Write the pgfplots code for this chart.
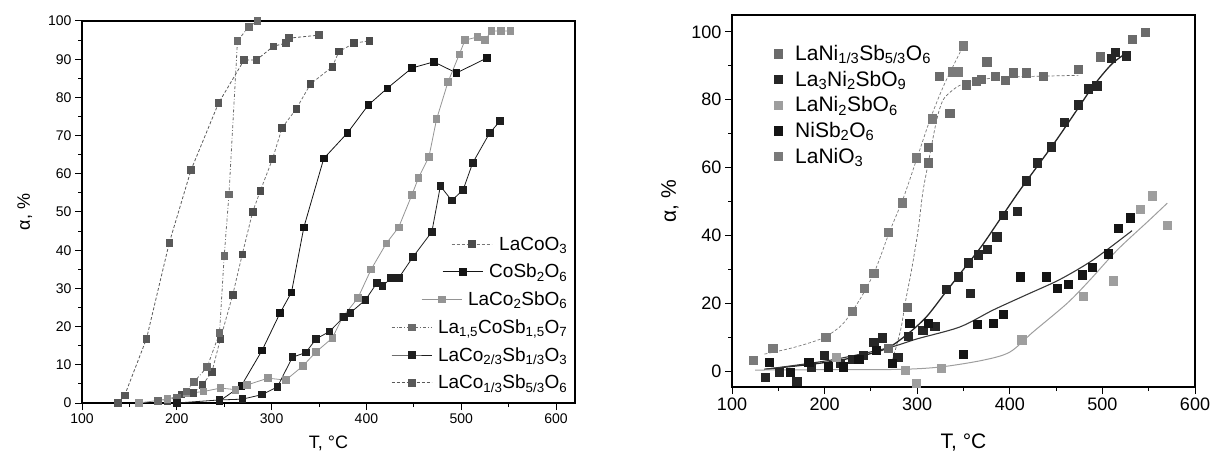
\documentclass[border=0pt]{standalone}
\usepackage{fontspec}
\setmainfont{Liberation Sans}
\usepackage{pgfplots}
\pgfplotsset{compat=1.18}
\definecolor{cA}{gray}{0.35}
\definecolor{cB}{gray}{0.42}
\definecolor{cC}{gray}{0.30}
\definecolor{cD}{gray}{0.08}
\definecolor{cE}{gray}{0.58}
\definecolor{cF}{gray}{0.12}
\definecolor{rA}{gray}{0.42}
\definecolor{rB}{gray}{0.15}
\definecolor{rC}{gray}{0.62}
\definecolor{rD}{gray}{0.08}
\definecolor{rE}{gray}{0.48}
\begin{document}
\begin{tikzpicture}
\useasboundingbox (0,0) rectangle (1212pt,461pt);
\begin{axis}[
 at={(82pt,58pt)}, anchor=south west, scale only axis, width=493pt, height=382pt,
 xmin=100, xmax=620, ymin=0, ymax=100,
 xtick={100,200,...,600}, ytick={0,10,...,100},
 minor x tick num=1, minor y tick num=1,
 tick pos=left, tick align=outside,
 major tick length=7pt, minor tick length=4pt,
 axis line style={line width=1.2pt}, every tick/.style={line width=1pt, black},
 /pgf/number format/assume math mode=true,
 tick label style={font=\fontsize{14}{16}\selectfont},
 xlabel={T, °C}, ylabel={α, \%},
 label style={font=\fontsize{18}{20}\selectfont},
 xlabel style={at={(axis description cs:0.5,-0.105)}, anchor=center},
 ylabel style={at={(axis description cs:-0.116,0.5)}, anchor=center},
 legend style={at={(0.995,0.022)}, anchor=south east, draw=none, fill=none, font=\fontsize{19}{21}\selectfont, row sep=8.5pt, column sep=4pt},
 legend cell align=right,
 legend image code/.code={\draw[mark repeat=2,mark phase=2,#1] plot coordinates {(0pt,0pt) (20pt,0pt) (40pt,0pt)};},
 every axis plot/.append style={line width=0.8pt, mark=square*, mark size=3.3pt},
]
% LaCoO3
\addplot[color=cE!80!black, densely dashed, mark options={solid, fill=cC, draw=cC}, legend image post style={xshift=60pt, overlay}] coordinates {
(190,0.5) (205,2.3) (217,2.6) (227,4.7) (237,8.1) (246,16.8) (259,28.3) (269,38.9) (280,50) (288,55.5) (301,63.9) (311,72) (326,77) (341,83.5) (364,88) (371,92) (387,94.2) (403,94.8)};
\addlegendentry{LaCoO\textsubscript{3}}
% CoSb2O6
\addplot[color=cD, solid, mark options={fill=cD, draw=cD}, legend image post style={xshift=51pt, overlay}] coordinates {
(245,0.5) (268,4.5) (290,13.8) (309,23.6) (321,29) (334,46) (355,64) (380,70.7) (402,78) (422,82.4) (448,87.7) (471,89.3) (495,86.4) (527,90.3)};
\addlegendentry{CoSb\textsubscript{2}O\textsubscript{6}}
% LaCo2SbO6
\addplot[color=cE, solid, mark options={fill=cE, draw=cE}, legend image post style={xshift=30pt, overlay}] coordinates {
(160,0) (190,1) (210,2.5) (228,3) (246,3.9) (262,3.5) (274,4.7) (296,6.5) (315,6) (333,9.7) (347,13.4) (364,17) (375,22.5) (391,27.5) (405,35) (421,41.8) (434,46) (448,54.5) (455,59) (466,64.5) (474,74.3) (486,84) (498,91.3) (504,95) (517,95.8) (525,95) (532,97.4) (542,97.4) (552,97.4)};
\addlegendentry{LaCo\textsubscript{2}SbO\textsubscript{6}}
% La1,5CoSb1,5O7
\addplot[color=cB, dashdotted, mark options={solid, fill=cB, draw=cB}] coordinates {
(180,0.5) (200,1.5) (210,3) (218,5.5) (232,9.4) (245,18.3) (250,38.5) (255,54.6) (264,94.8) (276,98.5) (285,100)};
\addlegendentry{La\textsubscript{1,5}CoSb\textsubscript{1,5}O\textsubscript{7}}
% LaCo2/3Sb1/3O3
\addplot[color=cF, solid, mark options={fill=cF, draw=cF}] coordinates {
(200,0) (245,0.8) (269,1) (290,2.2) (306,4.2) (322,12) (336,13.2) (347,16.8) (361,18.7) (376,22.5) (383,23.6) (399,27) (411,31.4) (417,30.6) (426,32.7) (434,32.7) (449,38.2) (469,44.8) (478,56.8) (490,53) (502,55.8) (512,62.8) (530,70.7) (541,73.8)};
\addlegendentry{LaCo\textsubscript{2/3}Sb\textsubscript{1/3}O\textsubscript{3}}
% LaCo1/3Sb5/3O6
\addplot[color=cA, densely dashed, mark options={solid, fill=cA, draw=cA}] coordinates {
(138,0) (145,2) (168,16.8) (192,41.9) (215,61) (244,78.5) (271,89.8) (284,89.8) (302,93.4) (315,94.2) (318,95.5) (350,96.3)};
\addlegendentry{LaCo\textsubscript{1/3}Sb\textsubscript{5/3}O\textsubscript{6}}
\end{axis}

\begin{axis}[
 at={(732pt,74pt)}, anchor=south west, scale only axis, width=463pt, height=372pt,
 xmin=100, xmax=600, ymin=-4.7, ymax=105,
 xtick={100,200,...,600}, ytick={0,20,...,100},
 minor x tick num=1, minor y tick num=1,
 tick pos=left, tick align=outside,
 major tick length=7pt, minor tick length=4pt,
 axis line style={line width=1.2pt}, every tick/.style={line width=1pt, black},
 /pgf/number format/assume math mode=true,
 tick label style={font=\fontsize{18}{20}\selectfont},
 xlabel={T, °C}, ylabel={α, \%},
 label style={font=\fontsize{21}{24}\selectfont},
 xlabel style={at={(axis description cs:0.5,-0.148)}, anchor=center},
 ylabel style={at={(axis description cs:-0.134,0.5)}, anchor=center},
 legend style={at={(0.082,0.93)}, anchor=north west, draw=none, fill=none, font=\fontsize{21}{23}\selectfont, row sep=5pt},
 legend cell align=left,
 legend image code/.code={\path[draw=none, fill=none] (-5pt,-5pt) rectangle (15pt,5pt); \draw[#1] plot coordinates {(0pt,0pt)};},
 every axis plot/.append style={mark size=4.2pt},
]
\addplot[only marks, mark=square*, color=rA] coordinates {
(268.5,6.8) (289,18.9) (311.7,61.4) (311.7,66) (323.5,87) (335,76) (352.7,84.5) (363.5,85.4) (369,86) (375,91.2) (384,86.9) (395,85.7) (403.5,88) (417.5,88) (436,87) (473.6,89) (497.4,92.7) (532,97.8) (546,100)};
\addlegendentry{LaNi\textsubscript{1/3}Sb\textsubscript{5/3}O\textsubscript{6}}
\addplot[only marks, mark=square*, color=rB] coordinates {
(135.6,-1.8) (150.8,-0.3) (170,-3) (185.3,1.3) (199.4,4.7) (216.6,2.4) (229.6,3.5) (241.5,4.7) (253,8.6) (262,9.8) (279,4.1) (290,10.3) (306,12.1) (319,13.3) (331,24.2) (344,27.8) (354.8,31.9) (357,23) (365.7,34.3) (375.4,36) (386,39.6) (392.7,46) (407.8,47.2) (417.5,56.1) (429.4,61.4) (444.5,66.2) (458.5,73.3) (473.6,78.6) (484.4,83.3) (494,84.2) (509.3,92.2) (513.6,94) (525.5,93)};
\addlegendentry{La\textsubscript{3}Ni\textsubscript{2}SbO\textsubscript{9}}
\addplot[only marks, mark=square*, color=rC] coordinates {
(212.3,4.1) (287,0.3) (298.7,-3.5) (325.7,0.9) (413,9.2) (479,22) (511.4,26.6) (540.6,47.8) (553.6,51.7) (569.8,43.1)};
\addlegendentry{LaNi\textsubscript{2}SbO\textsubscript{6}}
\addplot[only marks, mark=square*, color=rD] coordinates {
(140,2.7) (162.6,-0.3) (183,2.7) (203.7,1.3) (220,1.3) (237,3.5) (255.5,6.2) (272.8,2.4) (292,14.2) (311.7,14.2) (349.5,5) (364.6,13.9) (381.9,14.2) (392.7,16.8) (411,27.8) (439,27.8) (451,24.5) (462.8,25.7) (478,28.4) (488.8,30.7) (506,34.6) (517,42.2) (530,45.2)};
\addlegendentry{NiSb\textsubscript{2}O\textsubscript{6}}
\addplot[only marks, mark=square*, color=rE] coordinates {
(123,3.2) (144,6.7) (201,10) (229.6,17.7) (242.5,24.5) (253,28.9) (268.5,41) (283.6,49.6) (298.7,62.9) (316,74.4) (338,88.3) (344,88.3) (349.5,96)};
\addlegendentry{LaNiO\textsubscript{3}}
% fitted curves
\addplot[forget plot, no marks, smooth, densely dashed, color=rE, line width=0.7pt] coordinates {
(135,5) (160,6.5) (180,8) (200,10) (220,14) (240,22) (255,30) (270,41) (285,51) (300,63) (315,75) (330,85) (350,96)};
\addplot[forget plot, no marks, smooth, densely dashed, color=rA, line width=0.7pt] coordinates {
(272,2) (282,12) (287,20) (294,30) (301,41.6) (306,52.6) (312,61.4) (321,74) (328,80) (339,83) (348,84.5) (365,85.7) (389,86.6) (425,86.9) (474,87.2)};
\addplot[forget plot, no marks, smooth, solid, color=rB, line width=1.3pt] coordinates {
(135,0.5) (200,2.5) (240,4.5) (268,6.8) (290,11) (310,16) (330,23) (350,30) (370,37) (389,44.6) (410,53) (430,60.5) (450,68) (470,76) (490,84) (510,90.5) (527,94)};
\addplot[forget plot, no marks, smooth, solid, color=rD!85!white, line width=1.1pt] coordinates {
(135,0.5) (206,3.2) (268,6.8) (300,9.5) (346,13) (382,18) (418,22.5) (454,27) (490,32.8) (532,41.4)};
\addplot[forget plot, no marks, smooth, solid, color=rC, line width=1pt] coordinates {
(125,0.3) (200,0.4) (281,0.5) (325,1.2) (371,3.2) (400,5.6) (425,11.5) (462,20) (487,27) (516,35.7) (551,44.6) (570,49.5)};
\end{axis}
\end{tikzpicture}
\end{document}
